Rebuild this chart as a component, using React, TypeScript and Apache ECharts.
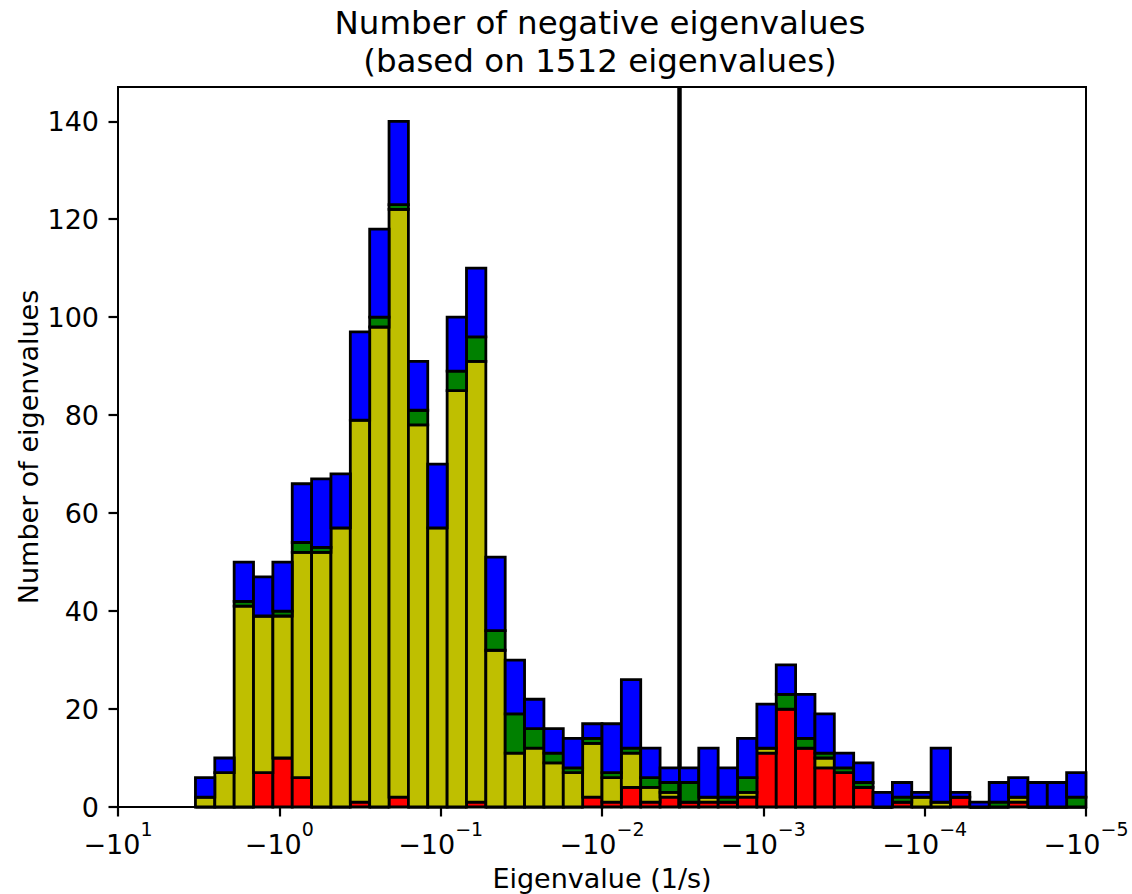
import React, { useEffect, useRef } from "react";
import * as echarts from "echarts";

const FONT = "DejaVu Sans";

// Histogram of t = -log10|λ|: the first bin starts at |λ| = 10^0.52,
// then 46 bins of 0.12 decades each, up to |λ| = 10^-5.
const FIRST_BIN_EDGE = -0.52;
const BIN_WIDTH = 0.12;

// Stacked counts per bin, bottom layer first
const redCounts = [
  0, 0, 0, 7, 10, 6, 0, 0, 1, 0, 2, 0, 0, 0, 1, 0, 0, 0, 0, 0, 2, 1, 4,
  1, 2, 1, 1, 1, 2, 11, 20, 12, 8, 7, 4, 0, 1, 0, 0, 2, 0, 0, 1, 0, 0, 0,
];
const yellowCounts = [
  2, 7, 41, 32, 29, 46, 52, 57, 78, 98, 120, 78, 57, 85, 90, 32, 11, 12, 9,
  7, 11, 5, 7, 3, 1, 0, 1, 0, 1, 1, 0, 0, 2, 0, 0, 0, 0, 2, 1, 0, 0, 0, 1,
  0, 0, 0,
];
const greenCounts = [
  0, 0, 1, 0, 1, 2, 1, 0, 0, 2, 1, 3, 0, 4, 5, 4, 8, 4, 2, 1, 1, 1, 1, 2,
  2, 4, 0, 1, 3, 0, 3, 2, 1, 1, 1, 0, 1, 0, 0, 0, 0, 1, 0, 0, 0, 2,
];
const blueCounts = [
  4, 3, 8, 8, 10, 12, 14, 11, 18, 18, 17, 10, 13, 11, 14, 15, 11, 6, 5, 6,
  3, 10, 14, 6, 3, 3, 10, 6, 8, 9, 6, 9, 8, 3, 4, 3, 3, 1, 11, 1, 1, 4, 4,
  5, 5, 5,
];

const layers = [
  { name: "red", counts: redCounts, color: "#ff0000" },
  { name: "yellow", counts: yellowCounts, color: "#bfbf00" },
  { name: "green", counts: greenCounts, color: "#008000" },
  { name: "blue", counts: blueCounts, color: "#0000ff" },
];

// Decade exponents on the x axis: −10^1 … −10^−5
const decadeExponents = [1, 0, -1, -2, -3, -4, -5];
const Y_MAX = 147;
const Y_STEP = 20;

// Vertical marker at λ = −10^−2.48
const THRESHOLD_EXP = -2.48;

const TITLE = "Number of negative eigenvalues\n(based on 1512 eigenvalues)";
const X_NAME = "Eigenvalue (1/s)";
const Y_NAME = "Number of eigenvalues";

function expText(e: number): string {
  return e < 0 ? "\u2212" + String(-e) : String(e);
}

export default function App() {
  const ref = useRef<HTMLDivElement>(null);

  useEffect(() => {
    document.body.style.margin = "0";
    if (!ref.current) return;
    const chart = echarts.init(ref.current, undefined, { renderer: "svg" });

    const base = redCounts.map(() => 0);
    const series: any[] = layers.map((layer, k) => {
      const data = layer.counts.map((c, i) => {
        const lo = FIRST_BIN_EDGE + i * BIN_WIDTH;
        const row = [lo, lo + BIN_WIDTH, base[i], base[i] + c];
        base[i] += c;
        return row;
      });
      return {
        type: "custom",
        name: layer.name,
        z: 2 + k,
        encode: { x: [0, 1], y: [2, 3] },
        data,
        renderItem: (_params: any, api: any) => {
          const p0 = api.coord([api.value(0), api.value(3)]);
          const p1 = api.coord([api.value(1), api.value(2)]);
          return {
            type: "rect",
            shape: {
              x: p0[0],
              y: p0[1],
              width: p1[0] - p0[0],
              height: p1[1] - p0[1],
            },
            style: { fill: layer.color, stroke: "#000", lineWidth: 2.8 },
          };
        },
      };
    });

    series.push({
      type: "line",
      data: [],
      z: 10,
      markLine: {
        silent: true,
        symbol: ["none", "none"],
        label: { show: false },
        lineStyle: { color: "#000", width: 4.5, type: "solid" },
        data: [{ xAxis: -THRESHOLD_EXP }],
      },
    });

    const tickFont = { fontFamily: FONT, color: "#000" };

    chart.setOption({
      animation: false,
      backgroundColor: "#fff",
      grid: {
        left: 118,
        right: 46,
        top: 87,
        bottom: 87,
        show: true,
        borderColor: "#000",
        borderWidth: 2,
        backgroundColor: "transparent",
      },
      xAxis: {
        type: "value",
        min: -decadeExponents[0],
        max: -decadeExponents[decadeExponents.length - 1],
        interval: 1,
        splitLine: { show: false },
        axisLine: { show: true, onZero: false, lineStyle: { color: "#000", width: 2 } },
        axisTick: { show: true, length: 9.5, lineStyle: { color: "#000", width: 2.2 } },
        axisLabel: {
          margin: 12,
          formatter: (v: number) => `{m|\u221210}{e|${expText(-v)}}`,
          rich: {
            m: { ...tickFont, fontSize: 27, verticalAlign: "middle" },
            e: { ...tickFont, fontSize: 19, padding: [0, 0, 32, 0], verticalAlign: "middle" },
          },
        },
      },
      yAxis: {
        type: "value",
        min: 0,
        max: Y_MAX,
        interval: Y_STEP,
        splitLine: { show: false },
        axisLine: { show: true, onZero: false, lineStyle: { color: "#000", width: 2 } },
        axisTick: { show: true, length: 9.5, lineStyle: { color: "#000", width: 2.2 } },
        axisLabel: {
          ...tickFont,
          fontSize: 27,
          margin: 19,
          showMaxLabel: false,
        },
      },
      graphic: [
        {
          type: "text",
          x: 600,
          y: 4,
          style: {
            text: TITLE,
            font: `32.5px "${FONT}"`,
            fill: "#000",
            textAlign: "center",
            textVerticalAlign: "top",
            lineHeight: 38,
          },
        },
        {
          type: "text",
          x: 602,
          y: 878,
          style: {
            text: X_NAME,
            font: `27px "${FONT}"`,
            fill: "#000",
            textAlign: "center",
            textVerticalAlign: "middle",
          },
        },
        {
          type: "text",
          x: 28,
          y: 447,
          rotation: Math.PI / 2,
          style: {
            text: Y_NAME,
            font: `27px "${FONT}"`,
            fill: "#000",
            textAlign: "center",
            textVerticalAlign: "middle",
          },
        },
      ],
      series,
    });

    return () => chart.dispose();
  }, []);

  return <div ref={ref} style={{ width: 1132, height: 894 }} />;
}
